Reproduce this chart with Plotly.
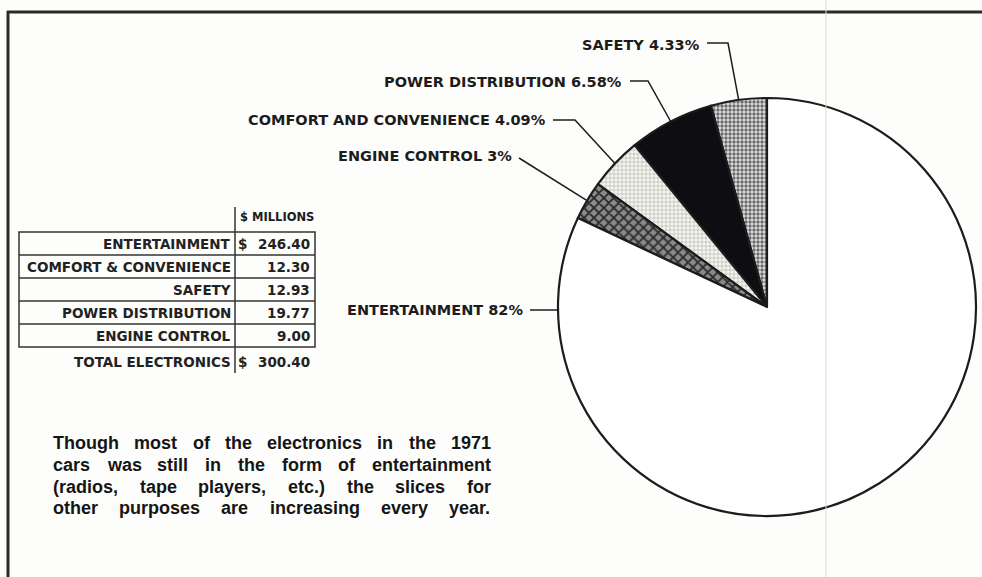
import math
import plotly.graph_objects as go

# ---------------- data ----------------
slice_labels = ["SAFETY", "POWER DISTRIBUTION", "COMFORT AND CONVENIENCE", "ENGINE CONTROL", "ENTERTAINMENT"]
slice_pcts = [4.33, 6.58, 4.09, 3, 82]

table_labels = ["ENTERTAINMENT", "COMFORT & CONVENIENCE", "SAFETY", "POWER DISTRIBUTION", "ENGINE CONTROL"]
table_values = [246.40, 12.30, 12.93, 19.77, 9.00]
table_unit = "$ MILLIONS"
total_label = "TOTAL ELECTRONICS"
total_value = 300.40

caption_lines = [
    "Though most of the electronics in the 1971",
    "cars was still in the form of entertainment",
    "(radios, tape players, etc.) the slices for",
    "other purposes are increasing every year.",
]

# ---------------- layout helpers (pixel -> paper) ----------------
W, H = 982, 577
def X(px):
    return px / W
def Y(py):
    return 1 - py / H

CX, CY, R = 767, 307, 209  # pie centre / radius in pixels

INK = "#1c1c1c"

total = sum(slice_pcts)

fig = go.Figure()

fig.add_trace(go.Pie(
    labels=slice_labels,
    values=slice_pcts,
    sort=False,
    direction="counterclockwise",
    rotation=-360 * slice_pcts[0] / total,   # first slice starts at 12 o'clock
    textinfo="none",
    hoverinfo="label+percent",
    showlegend=False,
    domain=dict(x=[X(CX - R), X(CX + R)], y=[Y(CY + R), Y(CY - R)]),
    marker=dict(
        colors=["#d8d8d8", "#0d0d12", "#f3f3ec", "#7a7a7a", "#ffffff"],
        line=dict(color=INK, width=2.2),
        pattern=dict(
            shape=[".", "", "+", "x", ""],
            fgcolor=["#6a6a6a", "#0d0d12", "#a8a8a0", "#2a2a2a", "#ffffff"],
            bgcolor=["#e2e2e2", "#0d0d12", "#f6f6f0", "#8a8a8a", "#ffffff"],
            size=[4, 8, 4, 7, 8],
            solidity=[0.55, 0.3, 0.25, 0.45, 0.3],
        ),
    ),
))

shapes = []
annotations = []

# frame lines
shapes.append(dict(type="line", xref="paper", yref="paper", x0=X(7), x1=X(982), y0=Y(12), y1=Y(12),
                   line=dict(color="#2a2a2a", width=3)))
shapes.append(dict(type="line", xref="paper", yref="paper", x0=X(8), x1=X(8), y0=Y(11), y1=Y(577),
                   line=dict(color="#2a2a2a", width=3)))
# faint page fold
shapes.append(dict(type="line", xref="paper", yref="paper", x0=X(826), x1=X(826), y0=Y(0), y1=Y(577),
                   line=dict(color="#ecd6d2", width=1)))

# ---------------- slice labels with leader lines ----------------
def slice_point(i):
    cum = sum(slice_pcts[:i]) + slice_pcts[i] / 2
    a = 2 * math.pi * cum / total
    return CX - R * math.sin(a), CY - R * math.cos(a)

# (text right x, text y, leader start, elbow or None)
label_pos = [
    (702, 45, (707, 43), (728, 43)),
    (624, 82, (630, 81), (648, 81)),
    (548, 120, (553, 120), (575, 120)),
    (514, 156, (519, 158), None),
    (525, 310, (530, 310), None),
]
for i, (lab, pct) in enumerate(zip(slice_labels, slice_pcts)):
    tx, ty, st, elb = label_pos[i]
    annotations.append(dict(
        x=X(tx), y=Y(ty), xref="paper", yref="paper", xanchor="right", yanchor="middle",
        text=f"{lab} {pct:g}%", showarrow=False,
        font=dict(family="DejaVu Sans", size=14.5, color=INK, weight="bold"),
    ))
    if i == len(slice_labels) - 1:
        end = (CX - R, CY + 3)
    else:
        end = slice_point(i)
    pts = [st] + ([elb] if elb else []) + [end]
    path = "M " + " L ".join(f"{X(p[0])},{Y(p[1])}" for p in pts)
    shapes.append(dict(type="path", xref="paper", yref="paper", path=path,
                       line=dict(color=INK, width=1.5)))

# ---------------- table ----------------
TL, TR, SEP = 19, 315, 235
row_top = 232
row_h = 23
n = len(table_labels)
shapes.append(dict(type="rect", xref="paper", yref="paper", x0=X(TL), x1=X(TR),
                   y0=Y(row_top), y1=Y(row_top + n * row_h), line=dict(color="#333", width=1.5)))
for k in range(1, n):
    yy = row_top + k * row_h
    shapes.append(dict(type="line", xref="paper", yref="paper", x0=X(TL), x1=X(TR), y0=Y(yy), y1=Y(yy),
                       line=dict(color="#333", width=1.5)))
shapes.append(dict(type="line", xref="paper", yref="paper", x0=X(SEP), x1=X(SEP), y0=Y(207), y1=Y(373),
                   line=dict(color="#333", width=1.5)))

tfont = dict(family="DejaVu Sans", size=13.5, color="#222", weight="bold")
annotations.append(dict(x=X(SEP + 3), y=Y(217), xref="paper", yref="paper", xanchor="left", yanchor="middle",
                        text=table_unit, showarrow=False,
                        font=dict(family="DejaVu Sans", size=11.5, color=INK, weight="bold")))
for k, (lab, val) in enumerate(zip(table_labels, table_values)):
    yc = row_top + k * row_h + row_h / 2
    annotations.append(dict(x=X(SEP - 2), y=Y(yc), xref="paper", yref="paper", xanchor="right",
                            yanchor="middle", text=lab, showarrow=False, font=tfont))
    annotations.append(dict(x=X(TR - 3), y=Y(yc), xref="paper", yref="paper", xanchor="right",
                            yanchor="middle", text=f"{val:.2f}", showarrow=False, font=tfont))
    if k == 0:
        annotations.append(dict(x=X(SEP + 1), y=Y(yc), xref="paper", yref="paper", xanchor="left",
                                yanchor="middle", text="$", showarrow=False, font=tfont))
yc = row_top + n * row_h + 15
annotations.append(dict(x=X(SEP - 2), y=Y(yc), xref="paper", yref="paper", xanchor="right",
                        yanchor="middle", text=total_label, showarrow=False, font=tfont))
annotations.append(dict(x=X(TR - 3), y=Y(yc), xref="paper", yref="paper", xanchor="right",
                        yanchor="middle", text=f"{total_value:.2f}", showarrow=False, font=tfont))
annotations.append(dict(x=X(SEP + 1), y=Y(yc), xref="paper", yref="paper", xanchor="left",
                        yanchor="middle", text="$", showarrow=False, font=tfont))

# ---------------- justified caption ----------------
AW = {
    'a': .556, 'b': .611, 'c': .556, 'd': .611, 'e': .556, 'f': .333, 'g': .611, 'h': .611, 'i': .278,
    'j': .278, 'k': .556, 'l': .278, 'm': .889, 'n': .611, 'o': .611, 'p': .611, 'q': .611, 'r': .389,
    's': .556, 't': .333, 'u': .611, 'v': .556, 'w': .778, 'x': .556, 'y': .556, 'z': .5,
    'T': .611, '(': .333, ')': .333, ',': .278, '.': .278, ' ': .278,
}
CAP_SIZE = 18
CAP_L, CAP_R = 52, 490
cap_y = [443, 465, 487, 508]
def tw(s):
    return sum(AW.get(c, .556) for c in s) * CAP_SIZE
for line, yy in zip(caption_lines, cap_y):
    words = line.split()
    widths = [tw(w) for w in words]
    gap = (CAP_R - CAP_L - sum(widths)) / (len(words) - 1)
    xx = CAP_L
    for w, wd in zip(words, widths):
        annotations.append(dict(x=X(xx), y=Y(yy), xref="paper", yref="paper", xanchor="left",
                                yanchor="middle", text=w, showarrow=False, borderpad=0,
                                font=dict(family="Liberation Sans, Arial", size=CAP_SIZE,
                                          color="#151515", weight="bold")))
        xx += wd + gap

fig.update_layout(
    width=W, height=H,
    margin=dict(l=0, r=0, t=0, b=0),
    paper_bgcolor="#fdfdfb",
    plot_bgcolor="#fdfdfb",
    shapes=shapes,
    annotations=annotations,
)

fig.write_html("out.html", config={"displayModeBar": False},
               post_script="document.body.style.margin='0';document.body.style.overflow='hidden';")
